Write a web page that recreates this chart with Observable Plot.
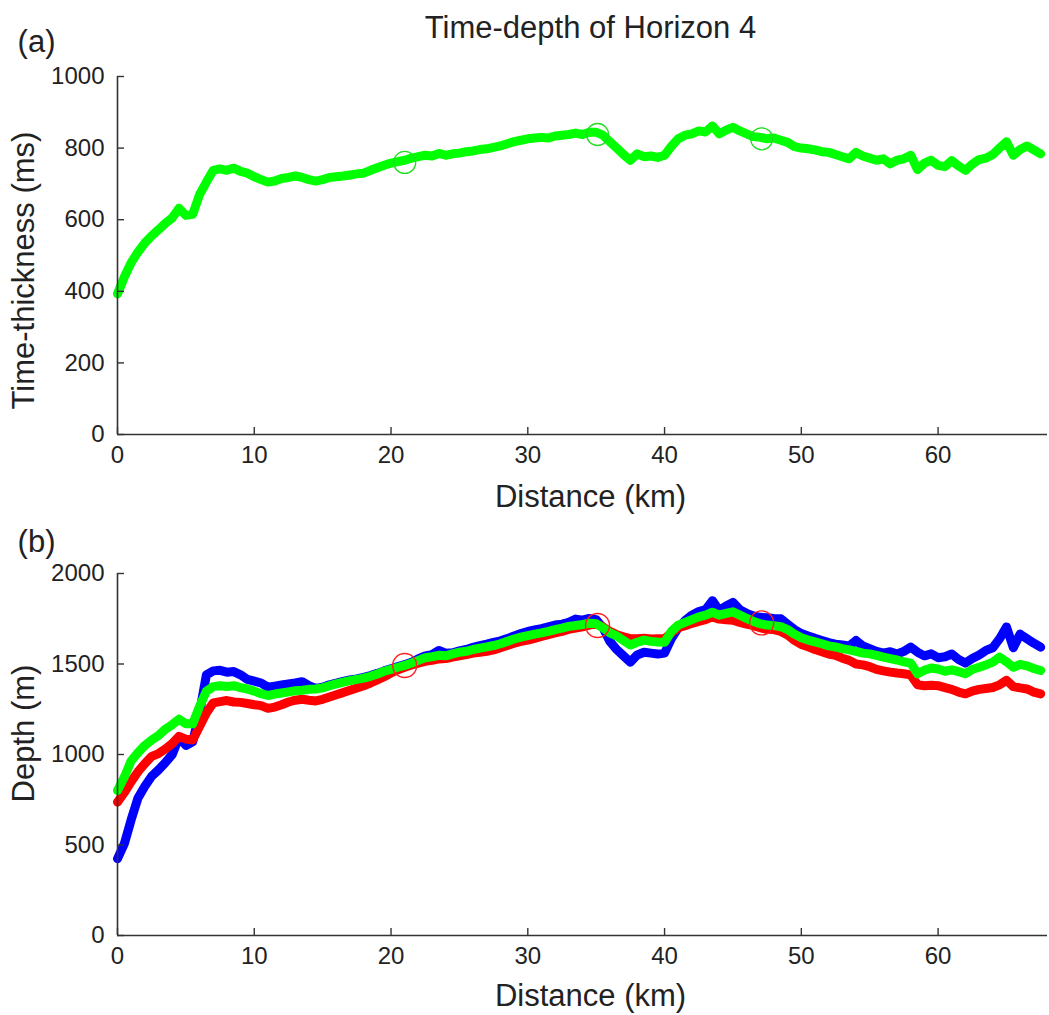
<!DOCTYPE html>
<html><head><meta charset="utf-8">
<script src="https://cdn.jsdelivr.net/npm/d3@7"></script>
<script src="https://cdn.jsdelivr.net/npm/@observablehq/plot@0.6"></script>
<style>html,body{margin:0;padding:0;background:#fff}#chart svg{display:block}</style>
</head><body><div id="chart"></div>
<script>
const distanceKm = [
0,0.5,1,1.5,2,2.5,3,3.5,4,4.5,
5,5.5,6,6.5,7,7.5,8,8.5,9,9.5,
10,10.5,11,11.5,12,12.5,13,13.5,14,14.5,
15,15.5,16,16.5,17,17.5,18,18.5,19,19.5,
20,20.5,21,21.5,22,22.5,23,23.5,24,24.5,
25,25.5,26,26.5,27,27.5,28,28.5,29,29.5,
30,30.5,31,31.5,32,32.5,33,33.5,34,34.5,
35,35.5,36,36.5,37,37.5,38,38.5,39,39.5,
40,40.5,41,41.5,42,42.5,43,43.5,44,44.5,
45,45.5,46,46.5,47,47.5,48,48.5,49,49.5,
50,50.5,51,51.5,52,52.5,53,53.5,54,54.5,
55,55.5,56,56.5,57,57.5,58,58.5,59,59.5,
60,60.5,61,61.5,62,62.5,63,63.5,64,64.5,
65,65.5,66,66.5,67,67.5];

const thicknessMs = [
393,440,480,510,535,555,572,590,605,632,
612,615,670,705,738,742,738,744,735,730,
720,712,705,708,715,718,722,718,712,708,
712,718,720,722,725,728,730,738,745,752,
758,762,766,772,776,780,778,785,780,784,
786,790,792,796,798,802,806,812,818,822,
826,828,830,828,834,836,838,842,838,844,
844,836,818,800,782,766,784,776,778,774,
780,805,826,836,840,848,845,862,840,850,
858,848,840,832,830,826,828,822,816,804,
800,798,795,790,788,782,776,770,788,778,
772,766,770,756,766,770,780,740,758,766,
752,748,765,750,738,755,768,772,782,800,
818,780,796,806,795,784];

const depthBlue = [
424,507,640,760,825,880,915,955,1000,1095,
1050,1070,1230,1440,1462,1465,1455,1458,1440,1415,
1405,1395,1372,1378,1384,1390,1395,1402,1380,1365,
1372,1385,1394,1404,1412,1418,1426,1436,1448,1462,
1474,1486,1496,1510,1528,1545,1552,1575,1560,1562,
1572,1580,1592,1602,1610,1620,1628,1640,1655,1668,
1680,1688,1695,1705,1715,1720,1730,1748,1742,1752,
1745,1700,1625,1580,1545,1510,1550,1565,1560,1555,
1560,1640,1700,1740,1770,1790,1800,1850,1795,1820,
1840,1800,1780,1765,1758,1755,1752,1750,1720,1690,
1668,1655,1642,1630,1618,1610,1605,1600,1630,1600,
1585,1570,1560,1568,1555,1570,1593,1565,1545,1556,
1535,1540,1555,1525,1505,1530,1550,1575,1590,1640,
1705,1590,1665,1640,1615,1593];

const depthRed = [
737,790,850,905,950,990,1005,1030,1060,1100,
1085,1080,1155,1230,1285,1292,1298,1290,1288,1282,
1275,1270,1255,1262,1275,1290,1300,1305,1300,1296,
1305,1318,1330,1342,1355,1368,1380,1395,1412,1430,
1450,1468,1482,1495,1505,1515,1520,1528,1530,1538,
1545,1552,1560,1565,1570,1578,1590,1602,1615,1625,
1632,1642,1652,1662,1672,1680,1692,1698,1705,1715,
1722,1705,1680,1662,1650,1640,1640,1642,1638,1640,
1640,1672,1700,1712,1725,1735,1745,1760,1748,1745,
1742,1730,1720,1712,1700,1692,1690,1680,1660,1630,
1608,1595,1580,1568,1555,1548,1532,1520,1500,1495,
1485,1470,1462,1455,1450,1446,1440,1385,1380,1382,
1380,1370,1360,1345,1335,1350,1360,1365,1370,1385,
1410,1375,1368,1362,1345,1335];

const depthGreen = [
801,875,965,1010,1050,1080,1105,1140,1165,1195,
1170,1170,1265,1350,1375,1380,1376,1380,1370,1362,
1350,1336,1326,1334,1340,1346,1352,1355,1360,1362,
1368,1380,1390,1400,1408,1415,1422,1432,1445,1460,
1470,1482,1492,1505,1520,1535,1540,1548,1545,1556,
1565,1570,1580,1588,1595,1602,1612,1625,1638,1648,
1657,1665,1672,1680,1690,1698,1708,1713,1718,1725,
1722,1700,1672,1655,1630,1605,1620,1632,1625,1622,
1620,1680,1715,1730,1745,1760,1770,1786,1770,1780,
1788,1770,1752,1735,1722,1715,1712,1706,1690,1665,
1645,1632,1622,1612,1600,1594,1585,1578,1570,1560,
1556,1548,1538,1530,1522,1512,1505,1446,1465,1478,
1472,1460,1468,1458,1446,1470,1482,1495,1510,1538,
1512,1482,1498,1490,1475,1464];

const markerKm = [21, 35.1, 47.1];
const markerThickness = [760, 838, 826];
const markerDepth = [1492, 1713, 1727];

const xTicks = [0, 10, 20, 30, 40, 50, 60];
const yTicksA = [0, 200, 400, 600, 800, 1000];
const yTicksB = [0, 500, 1000, 1500, 2000];

const titleText = "Time-depth of Horizon 4";
const xLabel = "Distance (km)";
const yLabelA = "Time-thickness (ms)";
const yLabelB = "Depth (m)";

const W = 1049;
const FONT = "'Liberation Sans', Arial, sans-serif";
const INK = "#333333";
const TXT = "#222222";
const fmt = d => String(d);

function frameMarks(yTicks, frameW, frameH) {
  return [
    Plot.ruleX([0], {stroke: INK, strokeWidth: 1.6}),
    Plot.ruleY([0], {stroke: INK, strokeWidth: 1.6}),
    Plot.tickX(xTicks, {x: d => d, insetTop: frameH - 7, stroke: INK, strokeWidth: 1.4}),
    Plot.tickY(yTicks, {y: d => d, insetRight: frameW - 7, stroke: INK, strokeWidth: 1.4}),
    Plot.axisX({ticks: xTicks, tickFormat: fmt, tickSize: 0, tickPadding: 11, label: null, fontSize: 24, fill: TXT}),
    Plot.axisY({ticks: yTicks, tickFormat: fmt, tickSize: 0, tickPadding: 13, label: null, fontSize: 24, fill: TXT})
  ];
}

const lbl = {fontSize: 31, fill: TXT, textAnchor: "middle", lineAnchor: "middle"};

const rowsA = distanceKm.map((d, i) => ({km: d, v: thicknessMs[i]}));
const circA = markerKm.map((d, i) => ({km: d, v: markerThickness[i]}));

const plotA = Plot.plot({
  width: W, height: 515,
  marginLeft: 117, marginRight: 2, marginTop: 76, marginBottom: 81,
  style: {fontFamily: FONT, fontSize: "24px", background: "#fff", color: TXT},
  x: {domain: [0, 68]},
  y: {domain: [0, 1000]},
  marks: [
    Plot.line(rowsA, {x: "km", y: "v", stroke: "#00ff00", strokeWidth: 9, strokeLinejoin: "round", strokeLinecap: "round"}),
    Plot.dot(circA, {x: "km", y: "v", r: 11, stroke: "#22dd22", strokeWidth: 1.3, fill: "none"}),
    ...frameMarks(yTicksA, 930, 358),
    Plot.text([titleText], {...lbl, frameAnchor: "top", dx: 8, dy: -48}),
    Plot.text(["(a)"], {...lbl, frameAnchor: "top-left", dx: -81, dy: -34}),
    Plot.text([yLabelA], {...lbl, frameAnchor: "left", dx: -93, dy: 15, rotate: -90}),
    Plot.text([xLabel], {...lbl, frameAnchor: "bottom", dx: 8, dy: 63})
  ]
});

const blueRows = distanceKm.map((d, i) => ({km: d, v: depthBlue[i]}));
const redRows = distanceKm.map((d, i) => ({km: d, v: depthRed[i]}));
const greenRows = distanceKm.map((d, i) => ({km: d, v: depthGreen[i]}));
const circB = markerKm.map((d, i) => ({km: d, v: markerDepth[i]}));

const lineOpts = {x: "km", y: "v", strokeWidth: 9, strokeLinejoin: "round", strokeLinecap: "round"};

const plotB = Plot.plot({
  width: W, height: 500,
  marginLeft: 117, marginRight: 2, marginTop: 58, marginBottom: 80,
  style: {fontFamily: FONT, fontSize: "24px", background: "#fff", color: TXT},
  x: {domain: [0, 68]},
  y: {domain: [0, 2000]},
  marks: [
    Plot.line(blueRows, {...lineOpts, stroke: "#0000ff"}),
    Plot.line(redRows, {...lineOpts, stroke: "#ff0000"}),
    Plot.line(greenRows, {...lineOpts, stroke: "#00ff00"}),
    Plot.dot(circB, {x: "km", y: "v", r: 12, stroke: "#ff2020", strokeWidth: 1.4, fill: "none"}),
    ...frameMarks(yTicksB, 930, 362),
    Plot.text(["(b)"], {...lbl, frameAnchor: "top-left", dx: -81, dy: -31}),
    Plot.text([yLabelB], {...lbl, frameAnchor: "left", dx: -93, dy: -21, rotate: -90}),
    Plot.text([xLabel], {...lbl, frameAnchor: "bottom", dx: 8, dy: 61})
  ]
});

const chart = document.getElementById("chart");
chart.appendChild(plotA);
chart.appendChild(plotB);
</script>
</body></html>
